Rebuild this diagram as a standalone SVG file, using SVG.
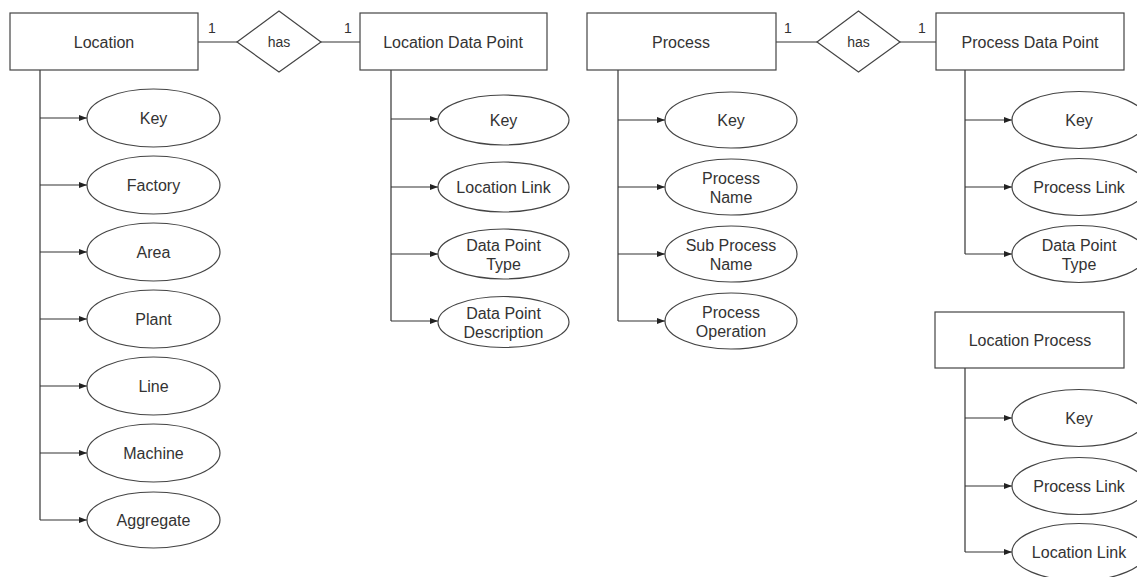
<svg xmlns="http://www.w3.org/2000/svg" width="1137" height="577" viewBox="0 0 1137 577">
  <style>
    .box { fill: #fff; stroke: #444; stroke-width: 1.2; }
    .attr { fill: #fff; stroke: #444; stroke-width: 1.2; }
    .rel { fill: #fff; stroke: #444; stroke-width: 1.2; }
    .wire { fill: none; stroke: #333; stroke-width: 1.2; }
    .lbl { font-family: "Liberation Sans", Arial, sans-serif; font-size: 16px; fill: #333; text-anchor: middle; }
    .small { font-family: "Liberation Sans", Arial, sans-serif; font-size: 14px; fill: #333; text-anchor: middle; }
  </style>
  <defs>
    <marker id="arrow" markerUnits="userSpaceOnUse" markerWidth="9" markerHeight="7" refX="8" refY="3" orient="auto">
      <path d="M0,0 L8,3 L0,6 z" fill="#222"/>
    </marker>
  </defs>
  <rect width="1137" height="577" fill="#fff"/>

  <!-- connectors -->
  <g id="connectors" class="wire">
    <!-- relationship lines -->
    <line x1="198" y1="42" x2="237" y2="42"/>
    <line x1="321" y1="42" x2="360" y2="42"/>
    <line x1="776" y1="42" x2="817" y2="42"/>
    <line x1="900" y1="42" x2="936" y2="42"/>
    <!-- Location attributes -->
    <line x1="40" y1="70" x2="40" y2="520"/>
    <line x1="40" y1="118" x2="87" y2="118" marker-end="url(#arrow)"/>
    <line x1="40" y1="185" x2="87" y2="185" marker-end="url(#arrow)"/>
    <line x1="40" y1="252" x2="87" y2="252" marker-end="url(#arrow)"/>
    <line x1="40" y1="319" x2="87" y2="319" marker-end="url(#arrow)"/>
    <line x1="40" y1="386" x2="87" y2="386" marker-end="url(#arrow)"/>
    <line x1="40" y1="453" x2="87" y2="453" marker-end="url(#arrow)"/>
    <line x1="40" y1="520" x2="87" y2="520" marker-end="url(#arrow)"/>
    <!-- Location Data Point attributes -->
    <line x1="391" y1="70" x2="391" y2="321"/>
    <line x1="391" y1="119" x2="438" y2="119" marker-end="url(#arrow)"/>
    <line x1="391" y1="187" x2="438" y2="187" marker-end="url(#arrow)"/>
    <line x1="391" y1="254" x2="438" y2="254" marker-end="url(#arrow)"/>
    <line x1="391" y1="321" x2="438" y2="321" marker-end="url(#arrow)"/>
    <!-- Process attributes -->
    <line x1="618" y1="70" x2="618" y2="321"/>
    <line x1="618" y1="120" x2="665" y2="120" marker-end="url(#arrow)"/>
    <line x1="618" y1="187" x2="665" y2="187" marker-end="url(#arrow)"/>
    <line x1="618" y1="254" x2="665" y2="254" marker-end="url(#arrow)"/>
    <line x1="618" y1="321" x2="665" y2="321" marker-end="url(#arrow)"/>
    <!-- Process Data Point attributes -->
    <line x1="965" y1="70" x2="965" y2="254"/>
    <line x1="965" y1="120" x2="1012" y2="120" marker-end="url(#arrow)"/>
    <line x1="965" y1="187" x2="1012" y2="187" marker-end="url(#arrow)"/>
    <line x1="965" y1="254" x2="1012" y2="254" marker-end="url(#arrow)"/>
    <!-- Location Process attributes -->
    <line x1="965" y1="368" x2="965" y2="552"/>
    <line x1="965" y1="418" x2="1012" y2="418" marker-end="url(#arrow)"/>
    <line x1="965" y1="486" x2="1012" y2="486" marker-end="url(#arrow)"/>
    <line x1="965" y1="552" x2="1012" y2="552" marker-end="url(#arrow)"/>
  </g>

  <!-- cardinality labels -->
  <g id="cardinalities">
    <text class="small" x="212" y="33">1</text>
    <text class="small" x="348" y="33">1</text>
    <text class="small" x="788" y="33">1</text>
    <text class="small" x="922" y="33">1</text>
  </g>

  <!-- entities -->
  <g id="location">
    <rect class="box" x="10" y="13" width="188" height="57"/>
    <text class="lbl" x="104" y="48">Location</text>
  </g>
  <g id="location-data-point">
    <rect class="box" x="360" y="13" width="187" height="57"/>
    <text class="lbl" x="453" y="48">Location Data Point</text>
  </g>
  <g id="process">
    <rect class="box" x="587" y="13" width="189" height="57"/>
    <text class="lbl" x="681" y="48">Process</text>
  </g>
  <g id="process-data-point">
    <rect class="box" x="936" y="13" width="188" height="57"/>
    <text class="lbl" x="1030" y="48">Process Data Point</text>
  </g>
  <g id="location-process">
    <rect class="box" x="935" y="312" width="189" height="56"/>
    <text class="lbl" x="1030" y="346">Location Process</text>
  </g>

  <!-- relationships -->
  <g id="has-location">
    <polygon class="rel" points="237,42 279,11 321,42 279,72"/>
    <text class="small" x="279" y="47">has</text>
  </g>
  <g id="has-process">
    <polygon class="rel" points="817,42 858.5,11 900,42 858.5,72"/>
    <text class="small" x="858.5" y="47">has</text>
  </g>

  <!-- Location attributes -->
  <g id="loc-key"><ellipse class="attr" cx="153.5" cy="118" rx="66.5" ry="29"/><text class="lbl" x="153.5" y="124">Key</text></g>
  <g id="loc-factory"><ellipse class="attr" cx="153.5" cy="185" rx="66.5" ry="29"/><text class="lbl" x="153.5" y="191">Factory</text></g>
  <g id="loc-area"><ellipse class="attr" cx="153.5" cy="252" rx="66.5" ry="29"/><text class="lbl" x="153.5" y="258">Area</text></g>
  <g id="loc-plant"><ellipse class="attr" cx="153.5" cy="319" rx="66.5" ry="29"/><text class="lbl" x="153.5" y="325">Plant</text></g>
  <g id="loc-line"><ellipse class="attr" cx="153.5" cy="386" rx="66.5" ry="29"/><text class="lbl" x="153.5" y="392">Line</text></g>
  <g id="loc-machine"><ellipse class="attr" cx="153.5" cy="453" rx="66.5" ry="29"/><text class="lbl" x="153.5" y="459">Machine</text></g>
  <g id="loc-aggregate"><ellipse class="attr" cx="153.5" cy="520" rx="66.5" ry="28"/><text class="lbl" x="153.5" y="526">Aggregate</text></g>

  <!-- Location Data Point attributes -->
  <g id="ldp-key"><ellipse class="attr" cx="503.5" cy="120" rx="65.5" ry="25"/><text class="lbl" x="503.5" y="126">Key</text></g>
  <g id="ldp-location-link"><ellipse class="attr" cx="503.5" cy="187" rx="65.5" ry="25"/><text class="lbl" x="503.5" y="193">Location Link</text></g>
  <g id="ldp-type"><ellipse class="attr" cx="503.5" cy="254" rx="65.5" ry="25"/><text class="lbl" x="503.5" y="251">Data Point</text><text class="lbl" x="503.5" y="270">Type</text></g>
  <g id="ldp-description"><ellipse class="attr" cx="503.5" cy="322" rx="65.5" ry="25.5"/><text class="lbl" x="503.5" y="319">Data Point</text><text class="lbl" x="503.5" y="338">Description</text></g>

  <!-- Process attributes -->
  <g id="proc-key"><ellipse class="attr" cx="731" cy="120" rx="66" ry="28"/><text class="lbl" x="731" y="126">Key</text></g>
  <g id="proc-name"><ellipse class="attr" cx="731" cy="187" rx="66" ry="28"/><text class="lbl" x="731" y="184">Process</text><text class="lbl" x="731" y="203">Name</text></g>
  <g id="proc-sub-name"><ellipse class="attr" cx="731" cy="254" rx="66" ry="28"/><text class="lbl" x="731" y="251">Sub Process</text><text class="lbl" x="731" y="270">Name</text></g>
  <g id="proc-operation"><ellipse class="attr" cx="731" cy="321" rx="66" ry="28"/><text class="lbl" x="731" y="318">Process</text><text class="lbl" x="731" y="337">Operation</text></g>

  <!-- Process Data Point attributes -->
  <g id="pdp-key"><ellipse class="attr" cx="1079" cy="120" rx="67" ry="28.5"/><text class="lbl" x="1079" y="126">Key</text></g>
  <g id="pdp-process-link"><ellipse class="attr" cx="1079" cy="187" rx="67" ry="28.5"/><text class="lbl" x="1079" y="193">Process Link</text></g>
  <g id="pdp-type"><ellipse class="attr" cx="1079" cy="254" rx="67" ry="28.5"/><text class="lbl" x="1079" y="251">Data Point</text><text class="lbl" x="1079" y="270">Type</text></g>

  <!-- Location Process attributes -->
  <g id="lp-key"><ellipse class="attr" cx="1079" cy="418" rx="67" ry="28.5"/><text class="lbl" x="1079" y="424">Key</text></g>
  <g id="lp-process-link"><ellipse class="attr" cx="1079" cy="486" rx="67" ry="28.5"/><text class="lbl" x="1079" y="492">Process Link</text></g>
  <g id="lp-location-link"><ellipse class="attr" cx="1079" cy="552" rx="67" ry="28.5"/><text class="lbl" x="1079" y="558">Location Link</text></g>
</svg>
